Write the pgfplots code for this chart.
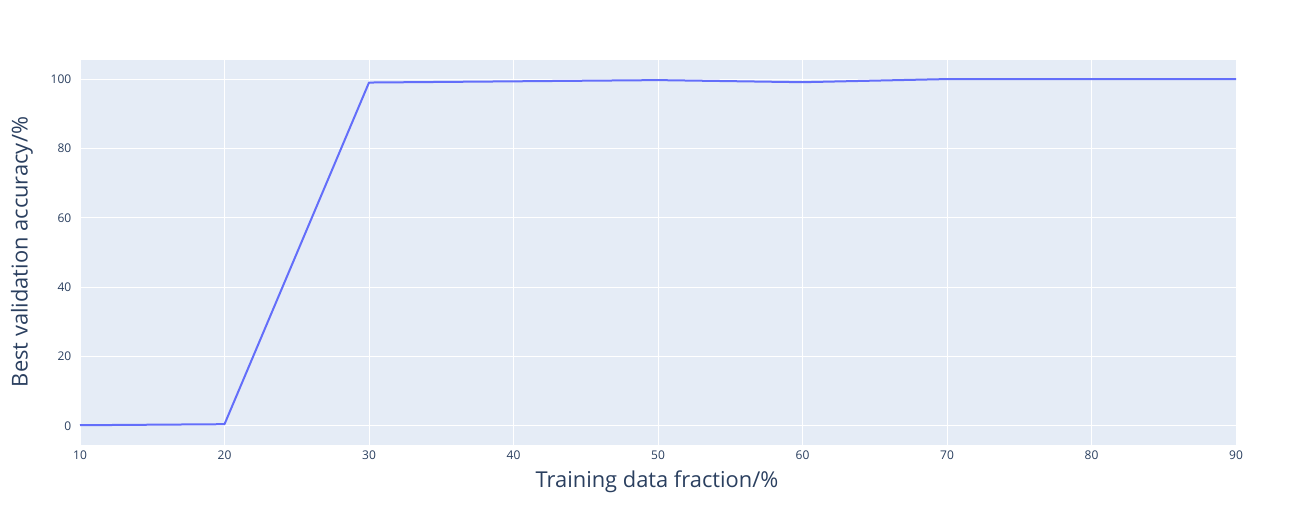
\documentclass[border=0pt]{standalone}
\usepackage{fontspec}
\setmainfont{Open Sans}
\usepackage{pgfplots}
\pgfplotsset{compat=1.18}
\definecolor{plotbg}{HTML}{E5ECF6}
\definecolor{lineblue}{HTML}{636EFA}
\definecolor{axtext}{HTML}{2A3F5F}

\begin{document}
\begin{tikzpicture}[x=0.75pt,y=0.75pt]
\path[use as bounding box] (0,0) rectangle (1316,525);
\begin{axis}[
    at={(60pt,60pt)}, anchor=south west,
    scale only axis,
    width=867pt, height=288.75pt,
    xmin=10, xmax=90, ymin=-5.5, ymax=105.5,
    xtick={10,20,...,90}, ytick={0,20,...,100},
    axis background/.style={fill=plotbg},
    axis line style={draw=none},
    tick style={draw=none},
    grid=major,
    major grid style={white, line width=0.75pt},
    ticklabel style={font=\fontsize{9}{10}\selectfont, text=axtext},
    /pgf/number format/assume math mode=true,
    xticklabel style={yshift=-1pt},
    yticklabel style={xshift=-3pt},
    clip=false,
]
\addplot[lineblue, line width=1.5pt, line join=round] coordinates {
(10,0.2) (20,0.5) (30,99.0) (40,99.35) (50,99.7) (60,99.1) (70,100) (80,100) (90,100)
};
\end{axis}
\node[text=axtext, font=\fontsize{16.4}{18}\selectfont] at (657,43) {Training data fraction/\%};
\node[text=axtext, font=\fontsize{16.4}{18}\selectfont, rotate=90] at (22,273) {Best validation accuracy/\%};
\end{tikzpicture}
\end{document}
